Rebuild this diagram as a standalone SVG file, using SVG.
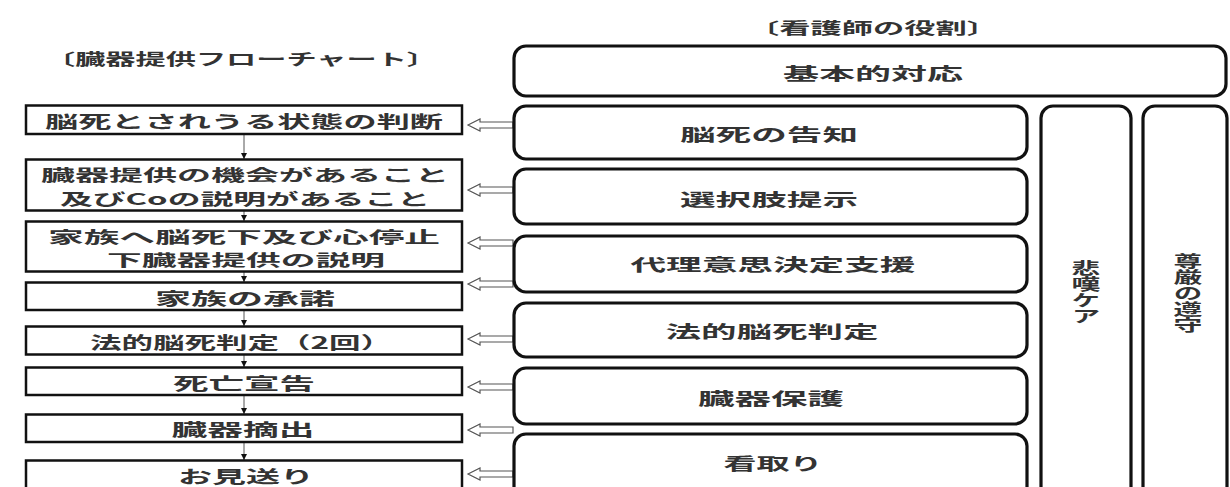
<svg xmlns="http://www.w3.org/2000/svg" width="1230" height="487" viewBox="0 0 1230 487">
<style>
  text { font-family: "Noto Sans CJK JP", "Noto Sans", sans-serif; fill: #333; text-anchor: middle; dominant-baseline: central; font-weight: 700; }
  .t { font-size: 17px; }
  .t2 { font-size: 16px; }
  .t3 { font-size: 15.5px; }
  .h { font-size: 16px; }
  .v { font-size: 16px; writing-mode: vertical-rl; }
  .lb { fill: #fff; stroke: #111; stroke-width: 2.5; }
  .rb { fill: #fff; stroke: #111; stroke-width: 3.2; }
  .conn { stroke: #555; stroke-width: 1; fill: none; }
  .harrow { fill: #fff; stroke: #555; stroke-width: 1.2; }
</style>
<defs>
  <marker id="ah" viewBox="0 0 10 10" refX="10" refY="5" markerWidth="6" markerHeight="6" markerUnits="userSpaceOnUse" orient="auto">
    <path d="M0,0 L10,5 L0,10 Z" fill="#111"/>
  </marker>
  <path id="hollow" class="harrow" d="M0,0 L12,-6 L12,-3 L45,-3 L45,3 L12,3 L12,6 Z"/>
</defs>
<rect width="1230" height="487" fill="#fff"/>

<g id="titles">
  <text class="h" x="241" y="58" textLength="392" lengthAdjust="spacingAndGlyphs">〔臓器提供フローチャート〕</text>
  <text class="h" x="873" y="27" textLength="250" lengthAdjust="spacingAndGlyphs">〔看護師の役割〕</text>
</g>

<g id="flow-connectors">
  <line class="conn" x1="244" y1="134" x2="244" y2="159" marker-end="url(#ah)"/>
  <line class="conn" x1="244" y1="211" x2="244" y2="221" marker-end="url(#ah)"/>
  <line class="conn" x1="244" y1="272" x2="244" y2="282" marker-end="url(#ah)"/>
  <line class="conn" x1="244" y1="310" x2="244" y2="326" marker-end="url(#ah)"/>
  <line class="conn" x1="244" y1="355" x2="244" y2="367" marker-end="url(#ah)"/>
  <line class="conn" x1="244" y1="395" x2="244" y2="414" marker-end="url(#ah)"/>
  <line class="conn" x1="244" y1="442" x2="244" y2="460" marker-end="url(#ah)"/>
</g>

<g id="role-arrows">
  <use href="#hollow" x="468" y="125"/>
  <use href="#hollow" x="468" y="190"/>
  <use href="#hollow" x="468" y="243"/>
  <use href="#hollow" x="468" y="284"/>
  <use href="#hollow" x="468" y="339"/>
  <use href="#hollow" x="468" y="387"/>
  <use href="#hollow" x="468" y="430"/>
  <use href="#hollow" x="468" y="474"/>
</g>

<g id="step1">
  <rect class="lb" x="26" y="105.5" width="436" height="28.5"/>
  <text class="t" x="244" y="120" textLength="398" lengthAdjust="spacingAndGlyphs">脳死とされうる状態の判断</text>
</g>
<g id="step2">
  <rect class="lb" x="26" y="159.5" width="436" height="51"/>
  <text class="t2" x="245" y="174" textLength="408" lengthAdjust="spacingAndGlyphs">臓器提供の機会があること</text>
  <text class="t2" x="245" y="198" textLength="370" lengthAdjust="spacingAndGlyphs">及びCoの説明があること</text>
</g>
<g id="step3">
  <rect class="lb" x="26" y="221.5" width="436" height="50"/>
  <text class="t3" x="244" y="236" textLength="392" lengthAdjust="spacingAndGlyphs">家族へ脳死下及び心停止</text>
  <text class="t3" x="246" y="259" textLength="278" lengthAdjust="spacingAndGlyphs">下臓器提供の説明</text>
</g>
<g id="step4">
  <rect class="lb" x="26" y="282.5" width="436" height="27.5"/>
  <text class="t" x="245" y="297" textLength="180" lengthAdjust="spacingAndGlyphs">家族の承諾</text>
</g>
<g id="step5">
  <rect class="lb" x="26" y="326.5" width="436" height="28"/>
  <text class="t" x="241" y="341" textLength="302" lengthAdjust="spacingAndGlyphs">法的脳死判定（2回）</text>
</g>
<g id="step6">
  <rect class="lb" x="26" y="367.5" width="436" height="27.5"/>
  <text class="t" x="244" y="382" textLength="142" lengthAdjust="spacingAndGlyphs">死亡宣告</text>
</g>
<g id="step7">
  <rect class="lb" x="26" y="414.5" width="436" height="27.5"/>
  <text class="t" x="243" y="428" textLength="143" lengthAdjust="spacingAndGlyphs">臓器摘出</text>
</g>
<g id="step8">
  <rect class="lb" x="26" y="460.5" width="436" height="40"/>
  <text class="t" x="246" y="475" textLength="136" lengthAdjust="spacingAndGlyphs">お見送り</text>
</g>

<g id="role-basic">
  <rect class="rb" x="514" y="46" width="712" height="50" rx="12"/>
  <text class="t" x="873" y="72" textLength="180" lengthAdjust="spacingAndGlyphs">基本的対応</text>
</g>
<g id="role-notify">
  <rect class="rb" x="514" y="106" width="513" height="53" rx="12"/>
  <text class="t" x="769" y="133" textLength="178" lengthAdjust="spacingAndGlyphs">脳死の告知</text>
</g>
<g id="role-options">
  <rect class="rb" x="514" y="169" width="513" height="55" rx="12"/>
  <text class="t" x="769" y="198" textLength="178" lengthAdjust="spacingAndGlyphs">選択肢提示</text>
</g>
<g id="role-proxy">
  <rect class="rb" x="514" y="236" width="513" height="56" rx="12"/>
  <text class="t" x="773" y="263" textLength="285" lengthAdjust="spacingAndGlyphs">代理意思決定支援</text>
</g>
<g id="role-legal">
  <rect class="rb" x="514" y="303" width="513" height="54" rx="12"/>
  <text class="t" x="772" y="330" textLength="213" lengthAdjust="spacingAndGlyphs">法的脳死判定</text>
</g>
<g id="role-organ">
  <rect class="rb" x="514" y="368" width="513" height="56" rx="12"/>
  <text class="t" x="771" y="397" textLength="146" lengthAdjust="spacingAndGlyphs">臓器保護</text>
</g>
<g id="role-farewell">
  <rect class="rb" x="514" y="434" width="513" height="70" rx="12"/>
  <text class="t" x="773" y="462" textLength="99" lengthAdjust="spacingAndGlyphs">看取り</text>
</g>
<g id="role-grief">
  <rect class="rb" x="1041" y="106" width="90" height="400" rx="12"/>
  <text class="v" transform="translate(1086,292) scale(1.8,1)" x="0" y="0">悲嘆ケア</text>
</g>
<g id="role-dignity">
  <rect class="rb" x="1143" y="106" width="84" height="400" rx="12"/>
  <text class="v" transform="translate(1188,293) scale(1.8,1)" x="0" y="0">尊厳の遵守</text>
</g>
</svg>
